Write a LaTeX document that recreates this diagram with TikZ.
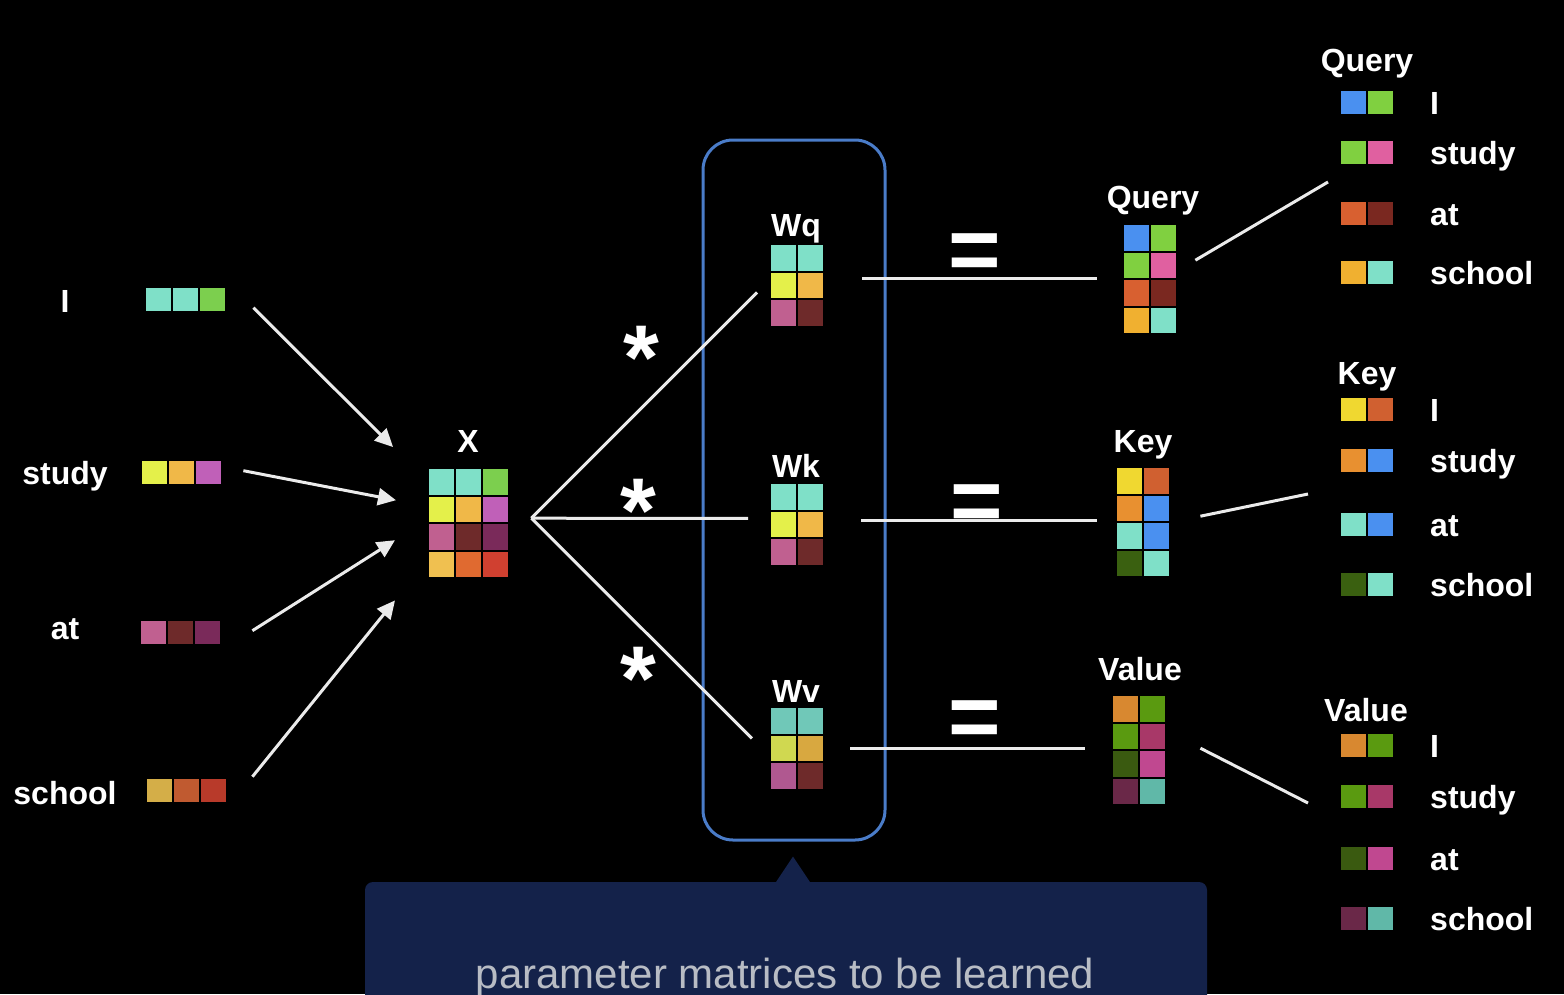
\documentclass[tikz,border=0pt]{standalone}
\usepackage{fontspec}
\setmainfont{Liberation Sans}
\usetikzlibrary{arrows.meta,calc,positioning}
\definecolor{cteal}{HTML}{7FE0C8}
\definecolor{cgreen}{HTML}{7CCF4E}
\definecolor{cyel}{HTML}{E4F04A}
\definecolor{cora}{HTML}{F0B848}
\definecolor{cmag}{HTML}{C060B8}
\definecolor{cpnk}{HTML}{C06090}
\definecolor{cbrn}{HTML}{6E2A2A}
\definecolor{cplum}{HTML}{7A2A5A}
\definecolor{cgold}{HTML}{F0C050}
\definecolor{corng}{HTML}{E06A30}
\definecolor{cred}{HTML}{D04030}
\definecolor{sgold}{HTML}{D4AE48}
\definecolor{sorng}{HTML}{C05A30}
\definecolor{sred}{HTML}{B83A2A}
\definecolor{vteal}{HTML}{70C8B8}
\definecolor{vyel}{HTML}{D0D850}
\definecolor{vora}{HTML}{D8A840}
\definecolor{vpnk}{HTML}{B05890}
\definecolor{cblue}{HTML}{4A90F0}
\definecolor{qgrn}{HTML}{80D040}
\definecolor{qpnk}{HTML}{E060A0}
\definecolor{qorng}{HTML}{D86030}
\definecolor{qdred}{HTML}{7A2820}
\definecolor{qgold}{HTML}{F0B030}
\definecolor{kyel}{HTML}{F0D830}
\definecolor{korng}{HTML}{D06030}
\definecolor{kora}{HTML}{E89030}
\definecolor{kdgrn}{HTML}{3A6010}
\definecolor{vlora}{HTML}{D88830}
\definecolor{vlgrn}{HTML}{5A9A10}
\definecolor{vlmag}{HTML}{A83868}
\definecolor{vldgrn}{HTML}{3A5A10}
\definecolor{vlpnk}{HTML}{C04890}
\definecolor{vlplum}{HTML}{6A2848}
\definecolor{vlteal}{HTML}{60B8A8}
\definecolor{boxblue}{HTML}{4A7CC8}
\definecolor{tipfill}{HTML}{14224A}
\definecolor{tiptext}{HTML}{B8BCC4}
\newcommand{\cellmat}[6]{%
  \node[anchor=north west, inner sep=0pt, minimum width=#3*27pt, minimum height=#4*#5pt] (#1) at (#2) {};
  \foreach \cl [count=\ci from 0] in {#6} {
    \pgfmathtruncatemacro\rr{div(\ci,#3)}
    \pgfmathtruncatemacro\cc{mod(\ci,#3)}
    \fill[\cl] ($(#1.north west)+(\cc*27+1,\rr*#5+1)$) rectangle +(25,#5-2);
  }}
\tikzset{
  word/.style={text=white, font=\bfseries\fontsize{32}{38}\selectfont, inner sep=0pt},
  op/.style={text=white, font=\bfseries\fontsize{#1}{#1}\selectfont, inner sep=0pt, anchor=base},
  link/.style={draw=white!92!black, line width=3pt},
  feed/.style={link, -{Triangle[length=18pt,width=17pt]}},
}
\begin{document}
\begin{tikzpicture}[x=1pt,y=-1pt]
\useasboundingbox (0,0) rectangle (1564,994);
\clip (0,0) rectangle (1564,994);
\fill[black] (0,0) rectangle (1564,994);
\node[word, anchor=base] (wI) at (65,312) {I};
\node[word, anchor=base] (wstudy) at (65,484) {study};
\node[word, anchor=base] (wat) at (65,639) {at};
\node[word, anchor=base] (wschool) at (65,804) {school};
\cellmat{vI}{145,287}{3}{1}{25}{cteal,cteal,cgreen}
\cellmat{vstudy}{141,460}{3}{1}{25}{cyel,cora,cmag}
\cellmat{vat}{140,620}{3}{1}{25}{cpnk,cbrn,cplum}
\cellmat{vschool}{146,778}{3}{1}{25}{sgold,sorng,sred}
\node[word, anchor=base] (xlab) at (468,452) {X};
\cellmat{X}{428,468}{3}{4}{27.5}{cteal,cteal,cgreen,cyel,cora,cmag,cpnk,cbrn,cplum,cgold,corng,cred}
\draw[feed] ($(vI.east)+(27,8)$) -- ($(X.north west)+(-35,-21)$);
\draw[feed] ($(vstudy.east)+(21,-2)$) -- ($(X.west)+(-32,-23)$);
\draw[feed] ($(vat.east)+(31,-2)$) -- ($(X.west)+(-33,17)$);
\draw[feed] ($(vschool.east)+(25,-14)$) -- ($(X.south west)+(-33,22)$);
\node[draw=boxblue, line width=3pt, rounded corners=30pt, minimum width=182pt, minimum height=700pt] (wbox) at (794,490) {};
\node[word, anchor=base] (wqlab) at (796,236) {Wq};
\cellmat{Wq}{770,244}{2}{3}{27.5}{cteal,cteal,cyel,cora,cpnk,cbrn}
\node[word, anchor=base] (wklab) at (796,477) {Wk};
\cellmat{Wk}{770,483}{2}{3}{27.5}{cteal,cteal,cyel,cora,cpnk,cbrn}
\node[word, anchor=base] (wvlab) at (796,702) {Wv};
\cellmat{Wv}{770,707}{2}{3}{27.5}{vteal,vteal,vyel,vora,vpnk,cbrn}
\draw[link] ($(X.east)+(22,-5)$) -- ($(Wq.west)+(-13,7)$);
\draw[link] ($(X.east)+(22,-5)$) -- ($(Wk.west)+(-22,-6)$);
\draw[link] ($(X.east)+(22,-5)$) -- ($(Wv.west)+(-18,-10)$);
\node[op=92] (mq) at (641,389) {*};
\node[op=92] (mk) at (638,542) {*};
\node[op=92] (mv) at (638,710) {*};
\node[word, anchor=base] (qlab) at (1153,208) {Query};
\cellmat{Q}{1123,224}{2}{4}{27.5}{cblue,qgrn,qgrn,qpnk,qorng,qdred,qgold,cteal}
\node[word, anchor=base] (klab) at (1143,452) {Key};
\cellmat{K}{1116,467}{2}{4}{27.5}{kyel,korng,kora,cblue,cteal,cblue,kdgrn,cteal}
\node[word, anchor=base] (vlab) at (1140,680) {Value};
\cellmat{V}{1112,695}{2}{4}{27.5}{vlora,vlgrn,vlgrn,vlmag,vldgrn,vlpnk,vlplum,vlteal}
\coordinate (qout) at ($(Wq.east)+(38,-7)$);
\coordinate (kout) at ($(Wk.east)+(37,-4)$);
\coordinate (vout) at ($(Wv.east)+(26,0)$);
\coordinate (qin) at ($(Q.west)+(-26,0)$);
\coordinate (kin) at ($(K.west)+(-19,0)$);
\coordinate (vin) at ($(V.west)+(-27,0)$);
\draw[link] (qout) -- (qout -| qin);
\draw[link] (kout) -- (kout -| kin);
\draw[link] (vout) -- (vout -| vin);
\node[op=90] (eq) at (975,280) {=};
\node[op=90] (ek) at (977,531) {=};
\node[op=90] (ev) at (975,747) {=};
\node[word, anchor=base] (lqlab) at (1367,71) {Query};
\foreach \w/\y/\ca/\cb in {I/90/cblue/qgrn, study/140/qgrn/qpnk, at/201/qorng/qdred, school/260/qgold/cteal} {
  \cellmat{q\w}{1340,\y}{2}{1}{25}{\ca,\cb}
  \node[word, anchor=base west] (lq\w) at (1430,\y+24) {\w};
}
\node[word, anchor=base] (lklab) at (1367,384) {Key};
\foreach \w/\y/\ca/\cb in {I/397/kyel/korng, study/448/kora/cblue, at/512/cteal/cblue, school/572/kdgrn/cteal} {
  \cellmat{k\w}{1340,\y}{2}{1}{25}{\ca,\cb}
  \node[word, anchor=base west] (lk\w) at (1430,\y+24) {\w};
}
\node[word, anchor=base] (lvlab) at (1366,721) {Value};
\foreach \w/\y/\ca/\cb in {I/733/vlora/vlgrn, study/784/vlgrn/vlmag, at/846/vldgrn/vlpnk, school/906/vlplum/vlteal} {
  \cellmat{v\w}{1340,\y}{2}{1}{25}{\ca,\cb}
  \node[word, anchor=base west] (lv\w) at (1430,\y+24) {\w};
}
\coordinate (qlist) at (1328,182);
\coordinate (klist) at (1308,494);
\coordinate (vlist) at (1308,803);
\draw[link] ($(Q.east)+(18,-19)$) -- (qlist);
\draw[link] ($(K.east)+(30,-6)$) -- (klist);
\draw[link] ($(V.east)+(34,-2)$) -- (vlist);
\fill[tipfill, rounded corners=8pt] (365,882) rectangle (1207,1030);
\fill[tipfill] ($(wbox.south)+(-19,42)$) -- ($(wbox.south)+(-1,15)$) -- ($(wbox.south)+(17,42)$) -- cycle;
\node[anchor=base, text=tiptext, font=\fontsize{42}{50}\selectfont, inner sep=0pt] (tip) at (785,988) {parameter matrices to be learned};
\end{tikzpicture}
\end{document}
